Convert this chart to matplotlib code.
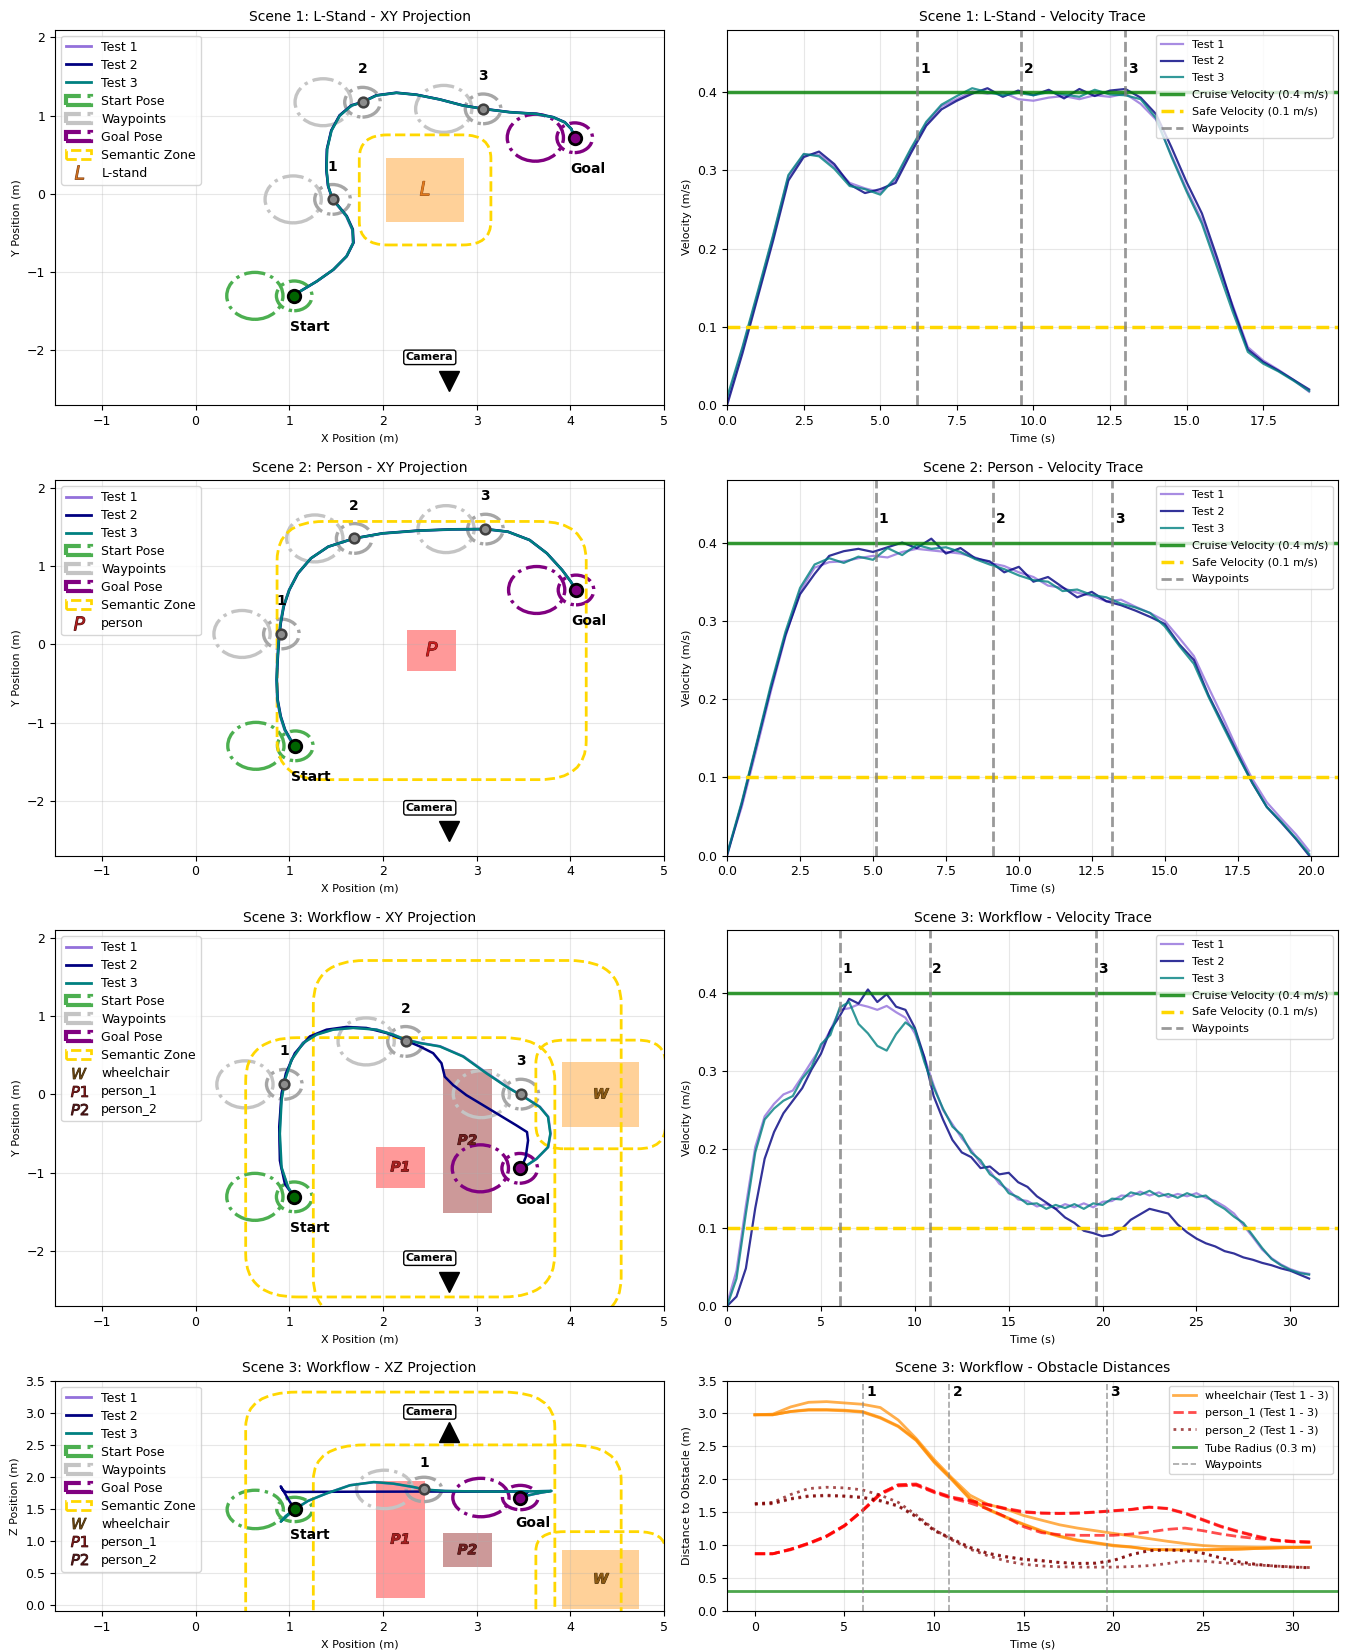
import numpy as np
import matplotlib
matplotlib.use("Agg")
import matplotlib.pyplot as plt
from matplotlib.patches import Circle, Rectangle, FancyBboxPatch, Patch
from matplotlib.lines import Line2D
import matplotlib.patheffects as pe

plt.rcParams['font.family'] = ['DejaVu Sans']
plt.rcParams['xtick.labelsize'] = 9
plt.rcParams['ytick.labelsize'] = 9
plt.rcParams['axes.titlesize'] = 10
plt.rcParams['axes.labelsize'] = 8

# ======================= DATA =======================
TEST_LABELS = ["Test 1", "Test 2", "Test 3"]

# ---- Scene 1 XY ----
S1_START = (1.053, -1.304)
S1_GOAL = (4.047, 0.717)
S1_WP_X = [1.462, 1.782, 3.069]
S1_WP_Y = [-0.071, 1.171, 1.086]
S1_T1_X = [1.053, 1.112, 1.289, 1.466, 1.608, 1.680, 1.672, 1.608, 1.520, 1.460, 1.414, 1.396, 1.403, 1.449, 1.538, 1.663, 1.781, 1.930, 2.144, 2.358, 2.607, 2.856, 3.069, 3.352, 3.637, 3.815, 3.939, 4.010, 4.047]
S1_T1_Y = [-1.304, -1.250, -1.122, -0.972, -0.801, -0.629, -0.458, -0.287, -0.157, -0.072, 0.100, 0.314, 0.571, 0.806, 0.999, 1.127, 1.170, 1.256, 1.290, 1.265, 1.205, 1.127, 1.085, 1.042, 1.020, 0.978, 0.913, 0.828, 0.717]
S1_T2_X = [1.053, 1.116, 1.296, 1.474, 1.615, 1.687, 1.679, 1.614, 1.525, 1.463, 1.414, 1.395, 1.402, 1.448, 1.537, 1.662, 1.780, 1.929, 2.143, 2.357, 2.606, 2.855, 3.069, 3.354, 3.640, 3.818, 3.942, 4.012, 4.047]
S1_T2_Y = [-1.304, -1.246, -1.117, -0.967, -0.796, -0.624, -0.453, -0.283, -0.154, -0.070, 0.103, 0.317, 0.574, 0.810, 1.004, 1.131, 1.174, 1.260, 1.293, 1.268, 1.208, 1.130, 1.088, 1.045, 1.023, 0.981, 0.916, 0.830, 0.717]
S1_T3_X = [1.053, 1.114, 1.292, 1.469, 1.611, 1.683, 1.675, 1.611, 1.523, 1.462, 1.416, 1.398, 1.405, 1.451, 1.540, 1.665, 1.782, 1.931, 2.145, 2.358, 2.607, 2.856, 3.069, 3.353, 3.638, 3.816, 3.940, 4.011, 4.047]
S1_T3_Y = [-1.304, -1.248, -1.120, -0.970, -0.799, -0.627, -0.456, -0.285, -0.156, -0.071, 0.101, 0.315, 0.572, 0.807, 1.000, 1.128, 1.171, 1.257, 1.291, 1.266, 1.206, 1.128, 1.086, 1.043, 1.021, 0.979, 0.914, 0.829, 0.717]
# object: name, letter, cx, cy, w, h
S1_OBJ = [("L-stand", "L", 2.45, 0.05, 0.825, 0.827)]

# ---- Scene 2 XY ----
S2_START = (1.064, -1.298)
S2_GOAL = (4.061, 0.694)
S2_WP_X = [0.916, 1.693, 3.094]
S2_WP_Y = [0.132, 1.353, 1.472]
S2_T1_X = [1.064, 1.010, 0.950, 0.904, 0.871, 0.862, 0.871, 0.885, 0.904, 0.936, 0.996, 1.089, 1.228, 1.413, 1.692, 1.993, 2.364, 2.734, 3.094, 3.336, 3.567, 3.752, 3.914, 4.007, 4.061]
S2_T1_Y = [-1.298, -1.223, -1.096, -0.925, -0.713, -0.457, -0.202, 0.053, 0.266, 0.479, 0.692, 0.904, 1.096, 1.245, 1.351, 1.415, 1.449, 1.466, 1.470, 1.436, 1.330, 1.160, 0.947, 0.798, 0.694]
S2_T2_X = [1.064, 1.016, 0.956, 0.910, 0.877, 0.868, 0.877, 0.891, 0.910, 0.942, 1.002, 1.095, 1.233, 1.418, 1.695, 1.996, 2.365, 2.735, 3.095, 3.334, 3.565, 3.750, 3.912, 4.005, 4.061]
S2_T2_Y = [-1.298, -1.219, -1.092, -0.921, -0.709, -0.453, -0.198, 0.057, 0.270, 0.483, 0.696, 0.908, 1.100, 1.249, 1.355, 1.419, 1.453, 1.470, 1.474, 1.440, 1.334, 1.164, 0.951, 0.802, 0.694]
S2_T3_X = [1.064, 1.013, 0.953, 0.907, 0.874, 0.865, 0.874, 0.888, 0.907, 0.939, 0.999, 1.092, 1.230, 1.415, 1.693, 1.994, 2.364, 2.734, 3.094, 3.335, 3.566, 3.751, 3.913, 4.006, 4.061]
S2_T3_Y = [-1.298, -1.221, -1.094, -0.923, -0.711, -0.455, -0.200, 0.055, 0.268, 0.481, 0.694, 0.906, 1.098, 1.247, 1.353, 1.417, 1.451, 1.468, 1.472, 1.438, 1.332, 1.162, 0.949, 0.800, 0.694]
S2_OBJ = [("person", "P", 2.52, -0.08, 0.52, 0.52)]

# ---- Scene 3 XY ----
S3_START = (1.053, -1.307)
S3_GOAL = (3.460, -0.943)
S3_WP_X = [0.947, 2.241, 3.471]
S3_WP_Y = [0.129, 0.677, 0.004]
S3_T1_X = [1.053, 0.985, 0.912, 0.895, 0.915, 0.952, 1.022, 1.145, 1.288, 1.466, 1.680, 1.928, 2.107, 2.240, 2.396, 2.610, 2.860, 3.110, 3.322, 3.534, 3.676, 3.765, 3.790, 3.764, 3.640, 3.532, 3.460]
S3_T1_Y = [-1.307, -1.180, -0.925, -0.498, -0.070, 0.187, 0.444, 0.660, 0.767, 0.830, 0.852, 0.830, 0.766, 0.702, 0.659, 0.615, 0.486, 0.272, 0.100, -0.050, -0.158, -0.285, -0.500, -0.672, -0.822, -0.908, -0.943]
S3_T2_X = [1.053, 0.954, 0.900, 0.893, 0.918, 0.964, 1.060, 1.220, 1.398, 1.611, 1.823, 2.037, 2.241, 2.394, 2.536, 2.625, 2.660, 2.749, 2.891, 3.069, 3.247, 3.424, 3.538, 3.549, 3.524, 3.478]
S3_T2_Y = [-1.307, -1.144, -0.844, -0.416, 0.013, 0.270, 0.527, 0.741, 0.827, 0.862, 0.849, 0.784, 0.690, 0.613, 0.527, 0.399, 0.227, 0.120, -0.009, -0.137, -0.266, -0.394, -0.480, -0.587, -0.802, -0.930]
S3_T3_X = [1.053, 0.989, 0.918, 0.900, 0.918, 0.954, 1.025, 1.149, 1.292, 1.469, 1.683, 1.931, 2.109, 2.241, 2.394, 2.607, 2.856, 3.105, 3.318, 3.531, 3.673, 3.762, 3.787, 3.762, 3.638, 3.531, 3.460]
S3_T3_Y = [-1.307, -1.187, -0.930, -0.501, -0.073, 0.184, 0.441, 0.656, 0.763, 0.827, 0.849, 0.827, 0.763, 0.699, 0.656, 0.613, 0.484, 0.270, 0.099, -0.051, -0.159, -0.287, -0.501, -0.673, -0.823, -0.909, -0.943]
# object: name, letter, cx, cy, cz, w(x), h(y), d(z)
S3_OBJ = [("wheelchair", "W", 4.325, 0.0, 0.395, 0.825, 0.827, 0.93),
          ("person_1", "P1", 2.185, -0.93, 1.015, 0.52, 0.53, 1.83),
          ("person_2", "P2", 2.900, -0.59, 0.850, 0.526, 1.84, 0.53)]

# ---- Scene 3 XZ ----
XZ_START = (1.057, 1.487)
XZ_GOAL = (3.466, 1.673)
XZ_WP_X = [2.438]
XZ_WP_Z = [1.800]
XZ_T1_X = [1.057, 0.982, 0.912, 0.962, 1.059, 1.203, 1.398, 1.650, 1.903, 2.115, 2.326, 2.452, 2.664, 3.086, 3.340, 3.600, 3.795, 3.648, 3.529, 3.466]
XZ_T1_Z = [1.487, 1.392, 1.300, 1.383, 1.490, 1.623, 1.738, 1.866, 1.912, 1.887, 1.835, 1.795, 1.775, 1.766, 1.766, 1.770, 1.775, 1.738, 1.698, 1.673]
XZ_T2_X = [1.057, 0.980, 0.909, 0.930, 0.964, 1.300, 1.700, 2.100, 2.500, 2.900, 3.300, 3.549, 3.524, 3.478]
XZ_T2_Z = [1.487, 1.670, 1.848, 1.790, 1.760, 1.762, 1.764, 1.765, 1.766, 1.766, 1.767, 1.766, 1.720, 1.680]
XZ_T3_X = [1.057, 0.980, 0.909, 0.960, 1.057, 1.200, 1.395, 1.648, 1.902, 2.113, 2.325, 2.451, 2.663, 3.085, 3.339, 3.600, 3.800, 3.650, 3.530, 3.466]
XZ_T3_Z = [1.487, 1.390, 1.296, 1.380, 1.487, 1.620, 1.735, 1.864, 1.915, 1.890, 1.838, 1.797, 1.776, 1.766, 1.766, 1.770, 1.776, 1.740, 1.700, 1.673]

# ---- Velocity traces ----
S1_T = np.arange(0, 19.01, 0.5)
S1_V1 = [0.005, 0.072, 0.142, 0.215, 0.292, 0.320, 0.320, 0.305, 0.284, 0.277,
         0.272, 0.288, 0.326, 0.360, 0.382, 0.391, 0.401, 0.398, 0.400, 0.391,
         0.389, 0.393, 0.395, 0.391, 0.396, 0.394, 0.398, 0.385, 0.365, 0.320,
         0.276, 0.236, 0.182, 0.128, 0.074, 0.057, 0.045, 0.032, 0.017]
S1_V2 = [0.000, 0.066, 0.138, 0.210, 0.287, 0.317, 0.324, 0.308, 0.282, 0.271,
         0.276, 0.284, 0.322, 0.357, 0.378, 0.389, 0.398, 0.405, 0.394, 0.402,
         0.396, 0.403, 0.392, 0.404, 0.395, 0.402, 0.404, 0.393, 0.372, 0.330,
         0.285, 0.245, 0.188, 0.126, 0.071, 0.055, 0.044, 0.032, 0.020]
S1_V3 = [0.010, 0.074, 0.145, 0.217, 0.294, 0.321, 0.318, 0.302, 0.280, 0.276,
         0.269, 0.291, 0.328, 0.362, 0.384, 0.395, 0.405, 0.400, 0.396, 0.399,
         0.396, 0.400, 0.397, 0.394, 0.403, 0.397, 0.396, 0.391, 0.367, 0.318,
         0.273, 0.232, 0.176, 0.120, 0.068, 0.053, 0.043, 0.031, 0.018]
S1_WP_T = [6.2, 9.6, 13.0]

S2_T = np.append(np.arange(0, 19.51, 0.5), 19.95)
S2_V1 = [0.003, 0.062, 0.135, 0.210, 0.280, 0.338, 0.368, 0.375, 0.376, 0.380,
         0.383, 0.381, 0.388, 0.392, 0.390, 0.388, 0.386, 0.381, 0.374, 0.370,
         0.362, 0.356, 0.345, 0.342, 0.336, 0.332, 0.325, 0.327, 0.318, 0.310,
         0.300, 0.278, 0.255, 0.215, 0.176, 0.135, 0.098, 0.068, 0.047, 0.027, 0.006]
S2_V2 = [0.000, 0.066, 0.140, 0.214, 0.282, 0.334, 0.360, 0.383, 0.389, 0.392,
         0.388, 0.394, 0.400, 0.393, 0.405, 0.386, 0.393, 0.380, 0.376, 0.362,
         0.369, 0.350, 0.356, 0.343, 0.330, 0.337, 0.325, 0.320, 0.313, 0.305,
         0.296, 0.270, 0.250, 0.205, 0.168, 0.130, 0.093, 0.062, 0.042, 0.021, 0.000]
S2_V3 = [0.002, 0.068, 0.142, 0.218, 0.286, 0.342, 0.372, 0.380, 0.374, 0.382,
         0.378, 0.393, 0.384, 0.397, 0.392, 0.394, 0.388, 0.379, 0.372, 0.366,
         0.358, 0.352, 0.350, 0.338, 0.340, 0.333, 0.330, 0.322, 0.317, 0.310,
         0.293, 0.268, 0.245, 0.203, 0.165, 0.128, 0.093, 0.062, 0.043, 0.022, 0.002]
S2_WP_T = [5.1, 9.1, 13.2]

S3_T = np.arange(0, 31.01, 0.5)
S3_V1 = [0.003, 0.045, 0.128, 0.203, 0.242, 0.258, 0.270, 0.275, 0.293, 0.312,
         0.330, 0.352, 0.378, 0.380, 0.385, 0.382, 0.378, 0.383, 0.375, 0.368,
         0.348, 0.318, 0.282, 0.250, 0.232, 0.214, 0.199, 0.182, 0.172, 0.156,
         0.148, 0.136, 0.134, 0.127, 0.130, 0.124, 0.130, 0.126, 0.131, 0.126,
         0.133, 0.134, 0.141, 0.140, 0.146, 0.141, 0.145, 0.139, 0.143, 0.140,
         0.144, 0.138, 0.134, 0.127, 0.118, 0.103, 0.088, 0.072, 0.061, 0.053,
         0.047, 0.043, 0.041]
S3_V2 = [0.000, 0.012, 0.048, 0.125, 0.188, 0.222, 0.246, 0.262, 0.278, 0.302,
         0.322, 0.352, 0.370, 0.392, 0.386, 0.404, 0.388, 0.398, 0.382, 0.378,
         0.355, 0.318, 0.268, 0.238, 0.212, 0.196, 0.190, 0.176, 0.178, 0.168,
         0.170, 0.158, 0.152, 0.140, 0.132, 0.124, 0.113, 0.106, 0.096, 0.093,
         0.089, 0.091, 0.098, 0.110, 0.117, 0.124, 0.121, 0.118, 0.104, 0.094,
         0.086, 0.080, 0.076, 0.070, 0.067, 0.062, 0.059, 0.055, 0.052, 0.048,
         0.045, 0.040, 0.035]
S3_V3 = [0.000, 0.035, 0.118, 0.196, 0.238, 0.252, 0.262, 0.268, 0.290, 0.305,
         0.334, 0.346, 0.381, 0.388, 0.360, 0.348, 0.332, 0.326, 0.347, 0.362,
         0.353, 0.312, 0.279, 0.252, 0.229, 0.218, 0.196, 0.186, 0.168, 0.160,
         0.144, 0.139, 0.130, 0.131, 0.124, 0.129, 0.125, 0.130, 0.124, 0.131,
         0.129, 0.137, 0.136, 0.145, 0.142, 0.147, 0.140, 0.143, 0.138, 0.144,
         0.139, 0.141, 0.131, 0.124, 0.114, 0.106, 0.090, 0.074, 0.060, 0.052,
         0.046, 0.042, 0.040]
S3_WP_T = [6.03, 10.83, 19.65]

# ---- Obstacle distances (scene 3) ----
D_T = np.arange(0, 32, 1.0)
WC_D1 = [2.98, 2.98, 3.03, 3.06, 3.06, 3.05, 3.03, 2.94, 2.81, 2.60, 2.27, 2.00, 1.71, 1.55, 1.43, 1.32,
         1.22, 1.14, 1.08, 1.04, 1.00, 0.975, 0.94, 0.93, 0.93, 0.93, 0.935, 0.94, 0.95, 0.96, 0.965, 0.97]
WC_D2 = [2.98, 2.99, 3.10, 3.17, 3.18, 3.16, 3.14, 3.09, 2.90, 2.62, 2.30, 2.02, 1.76, 1.62, 1.55, 1.45,
         1.38, 1.31, 1.26, 1.22, 1.18, 1.14, 1.10, 1.06, 1.025, 0.995, 0.98, 0.975, 0.97, 0.97, 0.97, 0.97]
WC_D3 = [2.98, 2.98, 3.03, 3.05, 3.05, 3.04, 3.02, 2.93, 2.80, 2.59, 2.26, 1.99, 1.70, 1.54, 1.42, 1.31,
         1.21, 1.13, 1.07, 1.03, 0.99, 0.97, 0.935, 0.93, 0.93, 0.93, 0.935, 0.94, 0.95, 0.955, 0.965, 0.97]
P1_D1 = [0.87, 0.87, 0.94, 1.03, 1.14, 1.30, 1.53, 1.79, 1.91, 1.92, 1.81, 1.72, 1.67, 1.61, 1.55, 1.50,
         1.485, 1.48, 1.485, 1.50, 1.52, 1.54, 1.575, 1.555, 1.48, 1.38, 1.28, 1.20, 1.13, 1.07, 1.05, 1.045]
P1_D2 = [0.87, 0.87, 0.94, 1.03, 1.14, 1.30, 1.52, 1.77, 1.90, 1.91, 1.80, 1.71, 1.64, 1.55, 1.43, 1.28,
         1.19, 1.16, 1.15, 1.15, 1.15, 1.17, 1.20, 1.24, 1.26, 1.22, 1.17, 1.13, 1.10, 1.08, 1.06, 1.045]
P1_D3 = [0.87, 0.87, 0.93, 1.02, 1.13, 1.29, 1.52, 1.78, 1.92, 1.93, 1.82, 1.73, 1.68, 1.62, 1.56, 1.51,
         1.49, 1.485, 1.49, 1.505, 1.525, 1.545, 1.58, 1.56, 1.49, 1.39, 1.29, 1.21, 1.14, 1.08, 1.055, 1.05]
P2_D1 = [1.63, 1.64, 1.71, 1.75, 1.76, 1.75, 1.73, 1.68, 1.60, 1.44, 1.23, 1.10, 0.97, 0.88, 0.83, 0.79,
         0.77, 0.74, 0.725, 0.73, 0.77, 0.86, 0.92, 0.93, 0.92, 0.88, 0.81, 0.75, 0.71, 0.685, 0.67, 0.66]
P2_D2 = [1.63, 1.65, 1.77, 1.86, 1.88, 1.87, 1.84, 1.76, 1.65, 1.46, 1.24, 1.08, 0.94, 0.84, 0.76, 0.71,
         0.685, 0.672, 0.668, 0.667, 0.667, 0.675, 0.69, 0.72, 0.765, 0.76, 0.735, 0.715, 0.70, 0.685, 0.67, 0.66]
P2_D3 = [1.62, 1.63, 1.70, 1.74, 1.75, 1.74, 1.72, 1.67, 1.59, 1.43, 1.22, 1.09, 0.96, 0.87, 0.82, 0.78,
         0.76, 0.735, 0.72, 0.725, 0.765, 0.855, 0.915, 0.925, 0.915, 0.875, 0.805, 0.745, 0.705, 0.68, 0.665, 0.655]
TUBE_RADIUS = 0.3

# ======================= STYLE =======================
TRAJ_COLORS = ["mediumpurple", "navy", "teal"]
START_C = "#4CAF50"
WP_BIG_C = "#C4C4C4"
WP_SMALL_C = "#A6A6A6"
GOAL_C = "purple"
ZONE_C = "gold"

OBJ_STYLE = {
    "L-stand": dict(face="darkorange", text="#E07A1E", edge="#8B4513", margin=0.29, round=0.3, weight='normal'),
    "person": dict(face="red", text="#C81E1E", edge="#5a0a0a", margin=1.39, round=0.5, weight='normal'),
    "wheelchair": dict(face="darkorange", text="#8C5A14", edge="#3a2505", margin=0.28, round=0.3, weight='bold'),
    "person_1": dict(face="red", text="#A51E1E", edge="#3a0505", margin=1.39, round=0.55, weight='bold'),
    "person_2": dict(face="maroon", text="#6E1E1E", edge="#2a0505", margin=1.38, round=0.55, weight='bold'),
}

fig = plt.figure(figsize=(13.49, 16.5), dpi=100)
LX, LW = 0.0408, 0.4514
RX, RW = 0.5390, 0.4530
ROWS = [(0.7545, 0.2276), (0.4815, 0.2276), (0.2085, 0.2279), (0.0236, 0.1397)]


def draw_pose(ax, x, y, big_c, small_c, dot_fc, dot_ec, dot_ms, dot_mew):
    ax.add_patch(Circle((x - 0.42, y), 0.30, fill=False, ec=big_c, ls='-.', lw=2.4, zorder=2))
    ax.add_patch(Circle((x, y), 0.19, fill=False, ec=small_c, ls='-.', lw=2.4, zorder=2))
    ax.plot([x], [y], 'o', ms=dot_ms, mfc=dot_fc, mec=dot_ec, mew=dot_mew, zorder=6)


def draw_zone(ax, cx, cy, w, h, margin, rnd):
    ax.add_patch(FancyBboxPatch((cx - w / 2 - margin, cy - h / 2 - margin), w + 2 * margin, h + 2 * margin,
                                boxstyle=f"round,pad=0,rounding_size={rnd}", fill=False,
                                ec=ZONE_C, ls='--', lw=2, zorder=2.5))


def draw_object(ax, name, letter, cx, cy, w, h, fs):
    st = OBJ_STYLE[name]
    ax.add_patch(Rectangle((cx - w / 2, cy - h / 2), w, h, fc=st["face"], alpha=0.4, ec='none', zorder=1))
    ax.text(cx, cy, letter, ha='center', va='center', fontsize=fs, fontstyle='italic', fontweight=st["weight"],
            color=st["text"], zorder=3,
            path_effects=[pe.withStroke(linewidth=0.6, foreground=st["edge"])])


def legend_handles(objs):
    hs = [Line2D([], [], color=c, lw=2, label=l) for c, l in zip(TRAJ_COLORS, TEST_LABELS)]
    hs += [Patch(fill=False, ec=START_C, ls='-.', lw=3, label='Start Pose'),
           Patch(fill=False, ec=WP_BIG_C, ls='-.', lw=3, label='Waypoints'),
           Patch(fill=False, ec=GOAL_C, ls='-.', lw=3, label='Goal Pose'),
           Patch(fill=False, ec=ZONE_C, ls='--', lw=2, label='Semantic Zone')]
    for name, letter in objs:
        st = OBJ_STYLE[name]
        ms = 10 if len(letter) == 1 else 12
        hs.append(Line2D([], [], ls='None', marker=f'${letter}$', ms=ms, mfc=st["text"], mec=st["edge"],
                         mew=0.6, label=name))
    return hs


def plan_panel(ax, title, trajs, start, goal, wpx, wpy, objs, obj_fs, camera_xy, camera_marker,
               ylabel, ylim):
    for (tx, ty), c in zip(trajs, TRAJ_COLORS):
        ax.plot(tx, ty, color=c, lw=1.8, zorder=4)
    for name, letter, cx, cy, w, h in objs:
        st = OBJ_STYLE[name]
        draw_object(ax, name, letter, cx, cy, w, h, obj_fs)
        draw_zone(ax, cx, cy, w, h, st["margin"], st["round"])
    draw_pose(ax, start[0], start[1], START_C, START_C, 'darkgreen', 'black', 9, 2)
    for i, (wx, wy) in enumerate(zip(wpx, wpy)):
        draw_pose(ax, wx, wy, WP_BIG_C, WP_SMALL_C, '#8c8c8c', '#404040', 7, 1.8)
        ax.text(wx, wy + 0.42, str(i + 1), ha='center', va='center', fontsize=10, fontweight='bold', zorder=7)
    draw_pose(ax, goal[0], goal[1], GOAL_C, GOAL_C, 'purple', 'black', 9, 2)
    ax.text(start[0] - 0.05, start[1] - 0.4, 'Start', ha='left', va='center', fontsize=10, fontweight='bold', zorder=7)
    ax.text(goal[0] - 0.05, goal[1] - 0.4, 'Goal', ha='left', va='center', fontsize=10, fontweight='bold', zorder=7)
    (cx, cy), (mx, my) = camera_xy
    ax.text(cx, cy, 'Camera', ha='center', va='center', fontsize=8, fontweight='bold', zorder=7,
            bbox=dict(boxstyle='round,pad=0.2', fc='white', ec='black', lw=1))
    ax.plot([mx], [my], marker=camera_marker, ms=14, color='black', ls='None', zorder=7)
    ax.set_xlim(-1.5, 5)
    ax.set_ylim(*ylim)
    ax.set_title(title)
    ax.set_xlabel('X Position (m)')
    ax.set_ylabel(ylabel)
    ax.grid(True, alpha=0.3)
    ax.legend(handles=legend_handles([(o[0], o[1]) for o in objs]), loc='upper left', fontsize=9,
              labelspacing=0.4)


def vel_panel(ax, title, t, vs, wpt):
    vcols = ["mediumpurple", "navy", "teal"]
    for v, c, l in zip(vs, vcols, TEST_LABELS):
        ax.plot(t, v, color=c, lw=1.6, alpha=0.8, label=l)
    ax.axhline(0.4, color='green', lw=2.5, alpha=0.8, label='Cruise Velocity (0.4 m/s)')
    ax.axhline(0.1, color=ZONE_C, lw=2.5, ls='--', label='Safe Velocity (0.1 m/s)')
    for i, tw in enumerate(wpt):
        ax.axvline(tw, color='gray', ls='--', lw=2, alpha=0.8, label='Waypoints' if i == 0 else None)
        ax.text(tw + 0.1, 0.43, str(i + 1), ha='left', va='center', fontsize=10, fontweight='bold')
    ax.set_xlim(0, t[-1] * 1.05)
    ax.set_ylim(0, 0.48)
    ax.set_title(title)
    ax.set_xlabel('Time (s)')
    ax.set_ylabel('Velocity (m/s)')
    ax.grid(True, alpha=0.3)
    ax.legend(loc='upper right', fontsize=8, labelspacing=0.62)


# ---------- Row 1 ----------
ax = fig.add_axes([LX, ROWS[0][0], LW, ROWS[0][1]])
plan_panel(ax, 'Scene 1: L-Stand - XY Projection',
           [(S1_T1_X, S1_T1_Y), (S1_T2_X, S1_T2_Y), (S1_T3_X, S1_T3_Y)],
           S1_START, S1_GOAL, S1_WP_X, S1_WP_Y, S1_OBJ, 14,
           ((2.5, -2.09), (2.7, -2.39)), 'v', 'Y Position (m)', (-2.7, 2.1))
ax = fig.add_axes([RX, ROWS[0][0], RW, ROWS[0][1]])
vel_panel(ax, 'Scene 1: L-Stand - Velocity Trace', S1_T, [S1_V1, S1_V2, S1_V3], S1_WP_T)

# ---------- Row 2 ----------
ax = fig.add_axes([LX, ROWS[1][0], LW, ROWS[1][1]])
plan_panel(ax, 'Scene 2: Person - XY Projection',
           [(S2_T1_X, S2_T1_Y), (S2_T2_X, S2_T2_Y), (S2_T3_X, S2_T3_Y)],
           S2_START, S2_GOAL, S2_WP_X, S2_WP_Y, S2_OBJ, 14,
           ((2.5, -2.09), (2.7, -2.39)), 'v', 'Y Position (m)', (-2.7, 2.1))
ax = fig.add_axes([RX, ROWS[1][0], RW, ROWS[1][1]])
vel_panel(ax, 'Scene 2: Person - Velocity Trace', S2_T, [S2_V1, S2_V2, S2_V3], S2_WP_T)

# ---------- Row 3 ----------
ax = fig.add_axes([LX, ROWS[2][0], LW, ROWS[2][1]])
S3_OBJ_XY = [(n, l, cx, cy, w, h) for n, l, cx, cy, cz, w, h, d in S3_OBJ]
plan_panel(ax, 'Scene 3: Workflow - XY Projection',
           [(S3_T1_X, S3_T1_Y), (S3_T2_X, S3_T2_Y), (S3_T3_X, S3_T3_Y)],
           S3_START, S3_GOAL, S3_WP_X, S3_WP_Y, S3_OBJ_XY, 10,
           ((2.5, -2.09), (2.7, -2.39)), 'v', 'Y Position (m)', (-2.7, 2.1))
ax = fig.add_axes([RX, ROWS[2][0], RW, ROWS[2][1]])
vel_panel(ax, 'Scene 3: Workflow - Velocity Trace', S3_T, [S3_V1, S3_V2, S3_V3], S3_WP_T)

# ---------- Row 4 ----------
ax = fig.add_axes([LX, ROWS[3][0], LW, ROWS[3][1]])
S3_OBJ_XZ = [(n, l, cx, cz, w, d) for n, l, cx, cy, cz, w, h, d in S3_OBJ]
plan_panel(ax, 'Scene 3: Workflow - XZ Projection',
           [(XZ_T1_X, XZ_T1_Z), (XZ_T2_X, XZ_T2_Z), (XZ_T3_X, XZ_T3_Z)],
           XZ_START, XZ_GOAL, XZ_WP_X, XZ_WP_Z, S3_OBJ_XZ, 10,
           ((2.5, 3.01), (2.7, 2.69)), '^', 'Z Position (m)', (-0.1, 3.5))

ax = fig.add_axes([RX, ROWS[3][0], RW, ROWS[3][1]])
dist_sets = [("wheelchair", "darkorange", '-', [WC_D1, WC_D2, WC_D3]),
             ("person_1", "red", '--', [P1_D1, P1_D2, P1_D3]),
             ("person_2", "maroon", ':', [P2_D1, P2_D2, P2_D3])]
for name, c, ls, curves in dist_sets:
    for k, d in enumerate(curves):
        ax.plot(D_T, d, color=c, ls=ls, lw=2, alpha=0.7,
                label=f'{name} (Test 1 - 3)' if k == 0 else None)
ax.axhline(TUBE_RADIUS, color='green', lw=2, alpha=0.7, label='Tube Radius (0.3 m)')
for i, tw in enumerate(S3_WP_T):
    ax.axvline(tw, color='gray', ls='--', lw=1.2, alpha=0.7, label='Waypoints' if i == 0 else None)
    ax.text(tw + 0.2, 3.33, str(i + 1), ha='left', va='center', fontsize=10, fontweight='bold')
ax.set_ylim(0, 3.5)
ax.set_title('Scene 3: Workflow - Obstacle Distances')
ax.set_xlabel('Time (s)')
ax.set_ylabel('Distance to Obstacle (m)')
ax.grid(True, alpha=0.3)
ax.legend(loc='upper right', fontsize=8, labelspacing=0.62)

fig.savefig('out.png', dpi=100)
